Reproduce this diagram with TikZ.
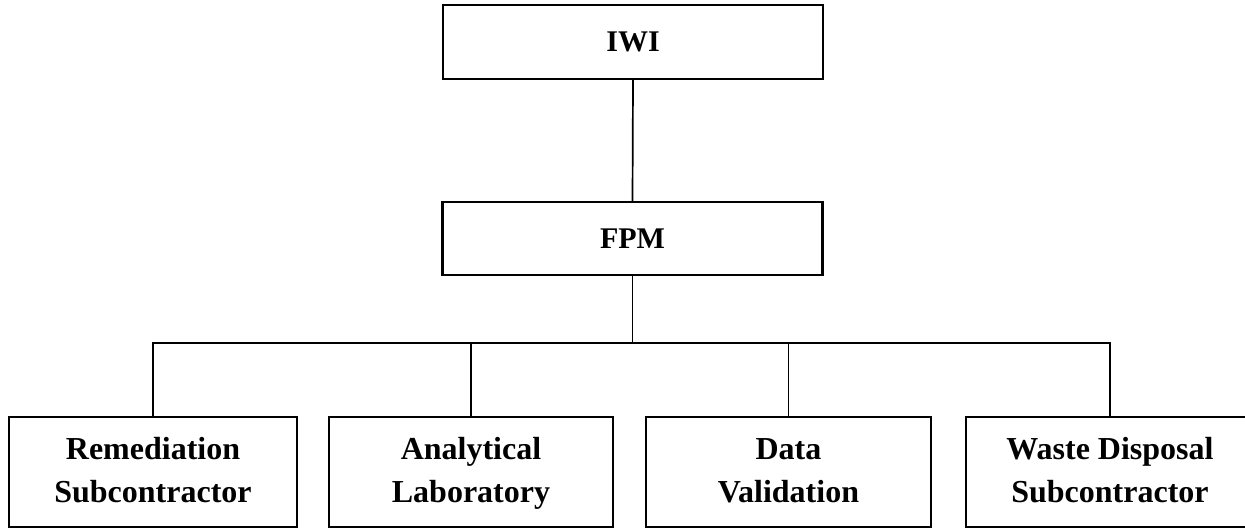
\documentclass[tikz,border=0pt]{standalone}
\usepackage{fontspec}
\setmainfont{Liberation Serif}
\begin{document}
\begin{tikzpicture}[x=1pt,y=-1pt,
  topbox/.style={draw,line width=2.4pt,inner sep=0pt,minimum width=380pt,minimum height=74pt,font=\fontsize{30}{36}\selectfont\bfseries},
  botbox/.style={draw,line width=2.4pt,inner sep=0pt,minimum height=110pt,align=center,font=\fontsize{32}{43}\selectfont\bfseries},
  link/.style={line width=1.7pt}]
\useasboundingbox (0,0) rectangle (1245,529);
\node[topbox] (iwi) at (633,42) {IWI};
\node[topbox,minimum height=73pt] (fpm) at (632.5,238.5) {FPM};
\coordinate (bus) at (632,343);
\node[botbox,minimum width=288pt] (b1) at (153,472) {\strut Remediation\\\strut Subcontractor};
\node[botbox,minimum width=284pt] (b2) at (471,472) {\strut Analytical\\\strut Laboratory};
\node[botbox,minimum width=285pt] (b3) at (788.5,472) {\strut Data\\\strut Validation};
\node[botbox,minimum width=288pt] (b4) at (1110,472) {\strut Waste Disposal\\\strut Subcontractor};
\draw[link] (iwi.south) -- (fpm.north);
\draw[link] (fpm.south) -- (fpm.south |- bus);
\draw[link] (b1.north) -- (b1.north |- bus) -- (b4.north |- bus) -- (b4.north);
\draw[link] (b2.north) -- (b2.north |- bus);
\draw[link] (b3.north) -- (b3.north |- bus);
\end{tikzpicture}
\end{document}
